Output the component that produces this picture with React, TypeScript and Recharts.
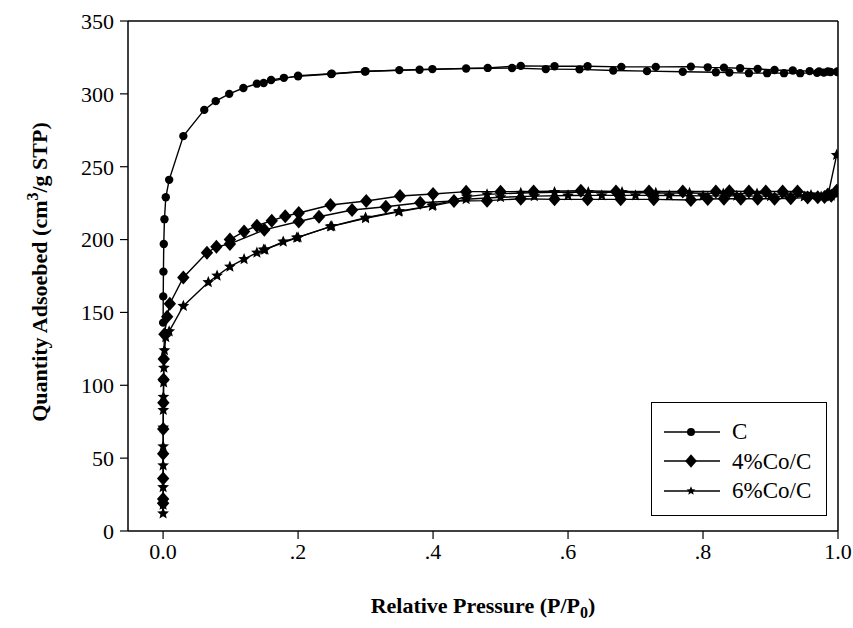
import { Legend, Line, LineChart, ReferenceLine, XAxis, YAxis } from "recharts";

// C (circles)
const C_ADS_P = [0.00005, 0.0002, 0.0005, 0.001, 0.002, 0.004, 0.009, 0.03, 0.061, 0.078, 0.098, 0.119, 0.139, 0.16, 0.179, 0.2, 0.249, 0.299, 0.35, 0.399, 0.449, 0.517, 0.567, 0.617, 0.667, 0.717, 0.77, 0.819, 0.839, 0.868, 0.895, 0.92, 0.944, 0.969, 0.979, 0.989, 0.999];
const C_ADS_Q = [143, 161, 178, 197, 214, 229, 241, 271, 289, 295, 300, 304, 307, 309.5, 311, 312, 313.6, 315.3, 316.3, 317, 317.4, 317.7, 317, 316.8, 316, 315.6, 315.2, 314.8, 314.6, 314.2, 314.2, 314.2, 314.2, 314.4, 314.6, 315, 315.3];
const C_DES_P = [0.999, 0.985, 0.972, 0.958, 0.933, 0.906, 0.881, 0.855, 0.831, 0.807, 0.782, 0.73, 0.679, 0.629, 0.58, 0.53, 0.481, 0.38, 0.3, 0.25, 0.2, 0.149];
const C_DES_Q = [315, 315.3, 315.3, 315.6, 316, 316.4, 317.1, 317.6, 318, 318.2, 318.7, 318.5, 318.5, 318.9, 318.9, 319.2, 317.8, 316.5, 315.5, 313.8, 312.5, 307.5];

// 4%Co/C (diamonds)
const CO4_ADS_P = [0.00001, 0.00003, 0.00006, 0.0001, 0.0002, 0.0004, 0.0007, 0.001, 0.002, 0.006, 0.01, 0.03, 0.065, 0.079, 0.099, 0.15, 0.201, 0.231, 0.28, 0.33, 0.381, 0.431, 0.48, 0.53, 0.58, 0.629, 0.678, 0.727, 0.782, 0.807, 0.831, 0.856, 0.881, 0.906, 0.93, 0.955, 0.97, 0.98, 0.99, 0.998];
const CO4_ADS_Q = [19, 22, 36, 53, 70, 88, 104, 118, 135, 147, 156, 174, 191, 195, 197, 206.7, 212.4, 215.7, 220.3, 222.5, 225.3, 226.5, 226.7, 228, 227.6, 227.6, 227.6, 227.6, 227.2, 227.8, 228, 228, 228, 228, 228.3, 228.8, 229, 229.3, 230, 233.5];
const CO4_DES_P = [0.985, 0.94, 0.918, 0.893, 0.868, 0.839, 0.819, 0.77, 0.72, 0.671, 0.619, 0.549, 0.5, 0.449, 0.4, 0.351, 0.301, 0.248, 0.201, 0.181, 0.161, 0.139, 0.12, 0.099];
const CO4_DES_Q = [231, 233, 233, 233, 233, 233.2, 233, 233, 233, 233, 233.5, 233, 232.9, 232.9, 231.3, 229.9, 226.5, 223.7, 218.2, 216, 213, 209.5, 205.6, 200];

// 6%Co/C (stars)
const CO6_ADS_P = [0.00001, 0.00002, 0.00004, 0.00007, 0.0001, 0.0002, 0.0003, 0.0005, 0.0008, 0.0012, 0.002, 0.004, 0.009, 0.03, 0.067, 0.08, 0.099, 0.12, 0.139, 0.151, 0.178, 0.198, 0.248, 0.3, 0.349, 0.399, 0.449, 0.5, 0.55, 0.6, 0.65, 0.7, 0.75, 0.8, 0.85, 0.9, 0.95, 0.975, 0.985, 0.998];
const CO6_ADS_Q = [12, 18, 30, 45, 58, 71, 83, 92, 102, 112, 124, 133, 137, 154.4, 170.7, 175.2, 181.4, 186.5, 191, 193, 198.6, 201.3, 208.9, 214.6, 219.1, 223.1, 227.7, 229, 229.8, 230.2, 230.3, 230.3, 230.2, 230, 230, 229.8, 229.5, 229.5, 230, 258];
const CO6_DES_P = [0.99, 0.96, 0.92, 0.88, 0.83, 0.78, 0.73, 0.68, 0.63, 0.58, 0.53, 0.48, 0.45, 0.4, 0.35, 0.3, 0.25, 0.2, 0.149];
const CO6_DES_Q = [230, 230.5, 231, 231.5, 231.5, 232, 232, 232.5, 232.5, 232.5, 232, 231, 229.5, 223.5, 219.5, 215, 209.2, 201.5, 193];

const X_TICKS = [0, 0.2, 0.4, 0.6, 0.8, 1.0];
const Y_TICKS = [0, 50, 100, 150, 200, 250, 300, 350];

const FONT = "'Liberation Serif', 'Times New Roman', serif";

const toPoints = (p: number[], q: number[]) => p.map((x, i) => ({ p: x, q: q[i] }));

const starPath = (cx: number, cy: number, R: number) => {
  const r = R * 0.45;
  let d = "";
  for (let i = 0; i < 10; i++) {
    const rad = i % 2 === 0 ? R : r;
    const a = -Math.PI / 2 + (i * Math.PI) / 5;
    d += (i === 0 ? "M" : "L") + (cx + rad * Math.cos(a)).toFixed(2) + "," + (cy + rad * Math.sin(a)).toFixed(2);
  }
  return d + "Z";
};

const Marker = ({ kind, cx, cy, scale = 1 }: { kind: string; cx: number; cy: number; scale?: number }) => {
  if (kind === "circle") return <circle cx={cx} cy={cy} r={4.2 * scale} fill="#000" />;
  if (kind === "diamond") {
    const w = 6.2 * scale;
    const h = 7 * scale;
    return <polygon points={`${cx},${cy - h} ${cx + w},${cy} ${cx},${cy + h} ${cx - w},${cy}`} fill="#000" />;
  }
  return <path d={starPath(cx, cy, 6.2 * scale)} fill="#000" />;
};

const dotFor = (kind: string) => (props: any) => {
  const { cx, cy, index } = props;
  if (cx == null || cy == null) return <g key={index} />;
  return (
    <g key={index}>
      <Marker kind={kind} cx={cx} cy={cy} />
    </g>
  );
};

const SERIES = [
  { name: "C", kind: "circle", ads: toPoints(C_ADS_P, C_ADS_Q), des: toPoints(C_DES_P, C_DES_Q) },
  { name: "4%Co/C", kind: "diamond", ads: toPoints(CO4_ADS_P, CO4_ADS_Q), des: toPoints(CO4_DES_P, CO4_DES_Q) },
  { name: "6%Co/C", kind: "star", ads: toPoints(CO6_ADS_P, CO6_ADS_Q), des: toPoints(CO6_DES_P, CO6_DES_Q) },
];

const fmtX = (v: number) => (v === 0 ? "0.0" : v === 1 ? "1.0" : "." + Math.round(v * 10));

const XTitle = (props: any) => {
  const vb = props.viewBox;
  return (
    <text x={vb.x + vb.width / 2} y={vb.y + 82} textAnchor="middle" fontFamily={FONT} fontSize={22} fontWeight="bold" fill="#000">
      Relative Pressure (P/P<tspan dy={5} fontSize={16}>0</tspan>
      <tspan dy={-5}>)</tspan>
    </text>
  );
};

const YTitle = (props: any) => {
  const vb = props.viewBox;
  const cy = vb.y + vb.height / 2 - 4;
  const x = 47;
  return (
    <text x={x} y={cy} transform={`rotate(-90, ${x}, ${cy})`} textAnchor="middle" fontFamily={FONT} fontSize={22} fontWeight="bold" fill="#000">
      Quantity Adsoebed (cm<tspan dy={-9} fontSize={16}>3</tspan>
      <tspan dy={9}>/g STP)</tspan>
    </text>
  );
};

const LegendBox = () => (
  <div style={{ border: "1.5px solid #000", width: 176, height: 114, boxSizing: "border-box", background: "#fff", paddingTop: 14 }}>
    {SERIES.map((s) => (
      <div key={s.name} style={{ display: "flex", alignItems: "center", height: 29.5 }}>
        <svg width={80} height={20} style={{ display: "block" }}>
          <line x1={12} x2={68} y1={10} y2={10} stroke="#000" strokeWidth={1.5} />
          <Marker kind={s.kind} cx={39} cy={10} scale={s.kind === "star" ? 0.75 : 0.95} />
        </svg>
        <span style={{ fontFamily: FONT, fontSize: 23, color: "#000", lineHeight: 1 }}>{s.name}</span>
      </div>
    ))}
  </div>
);

export default function App() {
  return (
    <div style={{ position: "absolute", left: 0, top: 0, width: 853, height: 628, background: "#fff" }}>
      <LineChart width={853} height={628} margin={{ top: 21, right: 15, bottom: 37, left: 78 }}>
        <XAxis
          type="number"
          dataKey="p"
          domain={[-0.052, 1]}
          ticks={X_TICKS}
          tickFormatter={fmtX}
          allowDataOverflow
          height={60}
          tickSize={8}
          tickMargin={4}
          axisLine={{ stroke: "#000", strokeWidth: 1.5 }}
          tickLine={{ stroke: "#000", strokeWidth: 1.2 }}
          tick={{ fill: "#000", fontSize: 22, fontFamily: FONT }}
          label={XTitle}
        />
        <YAxis
          type="number"
          domain={[0, 350]}
          ticks={Y_TICKS}
          width={50}
          tickSize={8}
          tickMargin={6}
          axisLine={{ stroke: "#000", strokeWidth: 1.5 }}
          tickLine={{ stroke: "#000", strokeWidth: 1.2 }}
          tick={{ fill: "#000", fontSize: 22, fontFamily: FONT }}
          label={YTitle}
        />
        <ReferenceLine y={350} stroke="#000" strokeWidth={1.5} />
        <ReferenceLine x={1} stroke="#000" strokeWidth={1.5} />
        {SERIES.map((s) => [
          <Line
            key={s.name + "-ads"}
            data={s.ads}
            dataKey="q"
            name={s.name}
            type="linear"
            stroke="#000"
            strokeWidth={1.4}
            dot={dotFor(s.kind)}
            activeDot={false}
            isAnimationActive={false}
          />,
          <Line
            key={s.name + "-des"}
            data={s.des}
            dataKey="q"
            name={s.name + " des"}
            legendType="none"
            type="linear"
            stroke="#000"
            strokeWidth={1.4}
            dot={dotFor(s.kind)}
            activeDot={false}
            isAnimationActive={false}
          />,
        ])}
        <Legend
          layout="vertical"
          align="center"
          verticalAlign="middle"
          content={() => <LegendBox />}
          wrapperStyle={{ left: 651, top: 402, width: 176, height: 114 }}
        />
      </LineChart>
    </div>
  );
}
